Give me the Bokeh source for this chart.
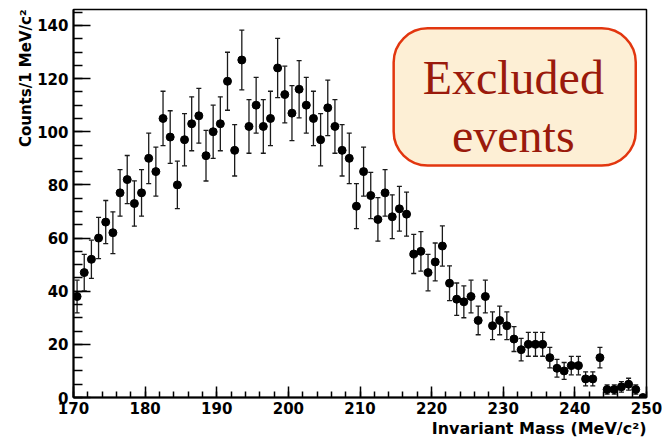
import numpy as np
from bokeh.plotting import figure
from bokeh.models import (ColumnDataSource, Range1d, SingleIntervalTicker,
                          Whisker, TeeHead, Label, BoxAnnotation, Title)
from bokeh.embed import file_html
from bokeh.resources import INLINE

# Histogram: 1 MeV/c^2 bins between 170 and 250 MeV/c^2
mass_lo = 170
mass_hi = 250
counts = [38, 47, 52, 60, 66, 62, 77, 82, 73, 77,
          90, 85, 105, 98, 80, 97, 103, 106, 91, 100,
          103, 119, 93, 127, 102, 110, 102, 105, 124, 114,
          107, 116, 110, 105, 97, 109, 102, 93, 90, 72,
          85, 76, 67, 77, 68, 71, 69, 54, 55, 47,
          51, 57, 43, 37, 36, 38, 29, 38, 27, 29,
          27, 22, 18, 20, 20, 20, 15, 11, 10, 12,
          12, 7, 7, 15, 3, 3, 4, 5, 3, 0]
x_ticks_step = 10
y_ticks_step = 20
y_top = 146

x_title = "Invariant Mass (MeV/c²)"
y_title = "Counts/1 MeV/c²"
note_lines = ["Excluded", "events"]

mass = np.arange(mass_lo, mass_hi) + 0.5
cnt = np.array(counts, dtype=float)
err = np.sqrt(cnt)  # Poisson errors of the bin counts
src = ColumnDataSource(dict(x=mass, y=cnt, lo=cnt - err, hi=cnt + err))

AX_FONT = "DejaVu Sans"

p = figure(width=662, height=440,
           x_range=Range1d(mass_lo, mass_hi), y_range=Range1d(0, y_top),
           output_backend="svg", toolbar_location=None,
           min_border_left=73, min_border_right=16,
           min_border_top=9, min_border_bottom=43)
p.background_fill_color = "white"
p.border_fill_color = "white"
p.outline_line_color = "black"
p.outline_line_width = 1.5
p.xgrid.visible = False
p.ygrid.visible = False

p.xaxis.ticker = SingleIntervalTicker(interval=x_ticks_step, num_minor_ticks=5)
p.yaxis.ticker = SingleIntervalTicker(interval=y_ticks_step, num_minor_ticks=4)
for ax in (p.xaxis, p.yaxis):
    ax.axis_line_width = 2
    ax.major_tick_out = 0
    ax.minor_tick_out = 0
    ax.major_tick_line_width = 1.5
    ax.minor_tick_line_width = 1.5
    ax.major_label_text_font = AX_FONT
    ax.major_label_text_font_style = "bold"
    ax.major_label_text_font_size = "15px"
    ax.major_label_text_color = "black"
    ax.major_label_standoff = 5
p.xaxis.major_tick_in = 11
p.xaxis.minor_tick_in = 6
p.yaxis.major_tick_in = 17
p.yaxis.minor_tick_in = 9
p.xaxis.major_label_standoff = 4

# error bars, then markers on top
wh = Whisker(source=src, base="x", lower="lo", upper="hi",
             line_color="#1a1a1a", line_width=1.3, level="underlay",
             upper_head=TeeHead(size=5, line_color="#1a1a1a", line_width=1.3),
             lower_head=TeeHead(size=5, line_color="#1a1a1a", line_width=1.3))
p.add_layout(wh)
p.scatter("x", "y", source=src, size=8, color="black")

# axis titles, aligned to the far ends of the axes
p.add_layout(Title(text=x_title, align="right", text_font=AX_FONT,
                   text_font_style="bold", text_font_size="16px",
                   text_color="black", standoff=0, offset=0), "below")
p.add_layout(Title(text=y_title, align="right", text_font=AX_FONT,
                   text_font_style="bold", text_font_size="15px",
                   text_color="black", standoff=0, offset=0), "left")

# rounded note box
p.add_layout(BoxAnnotation(left=214.7, right=248.5, top=138.9, bottom=87.3,
                           fill_color="#FDEFD5", fill_alpha=1.0,
                           line_color="#E2360F", line_alpha=1.0,
                           line_width=2.5, border_radius=34))
for txt, yy in zip(note_lines, [120.5, 98.6]):
    p.add_layout(Label(x=231.4, y=yy, text=txt, text_align="center",
                       text_baseline="alphabetic", text_font="Liberation Serif",
                       text_font_size="48px", text_color="#9A1A0C"))

open("out.html", "w").write(file_html(p, INLINE))
